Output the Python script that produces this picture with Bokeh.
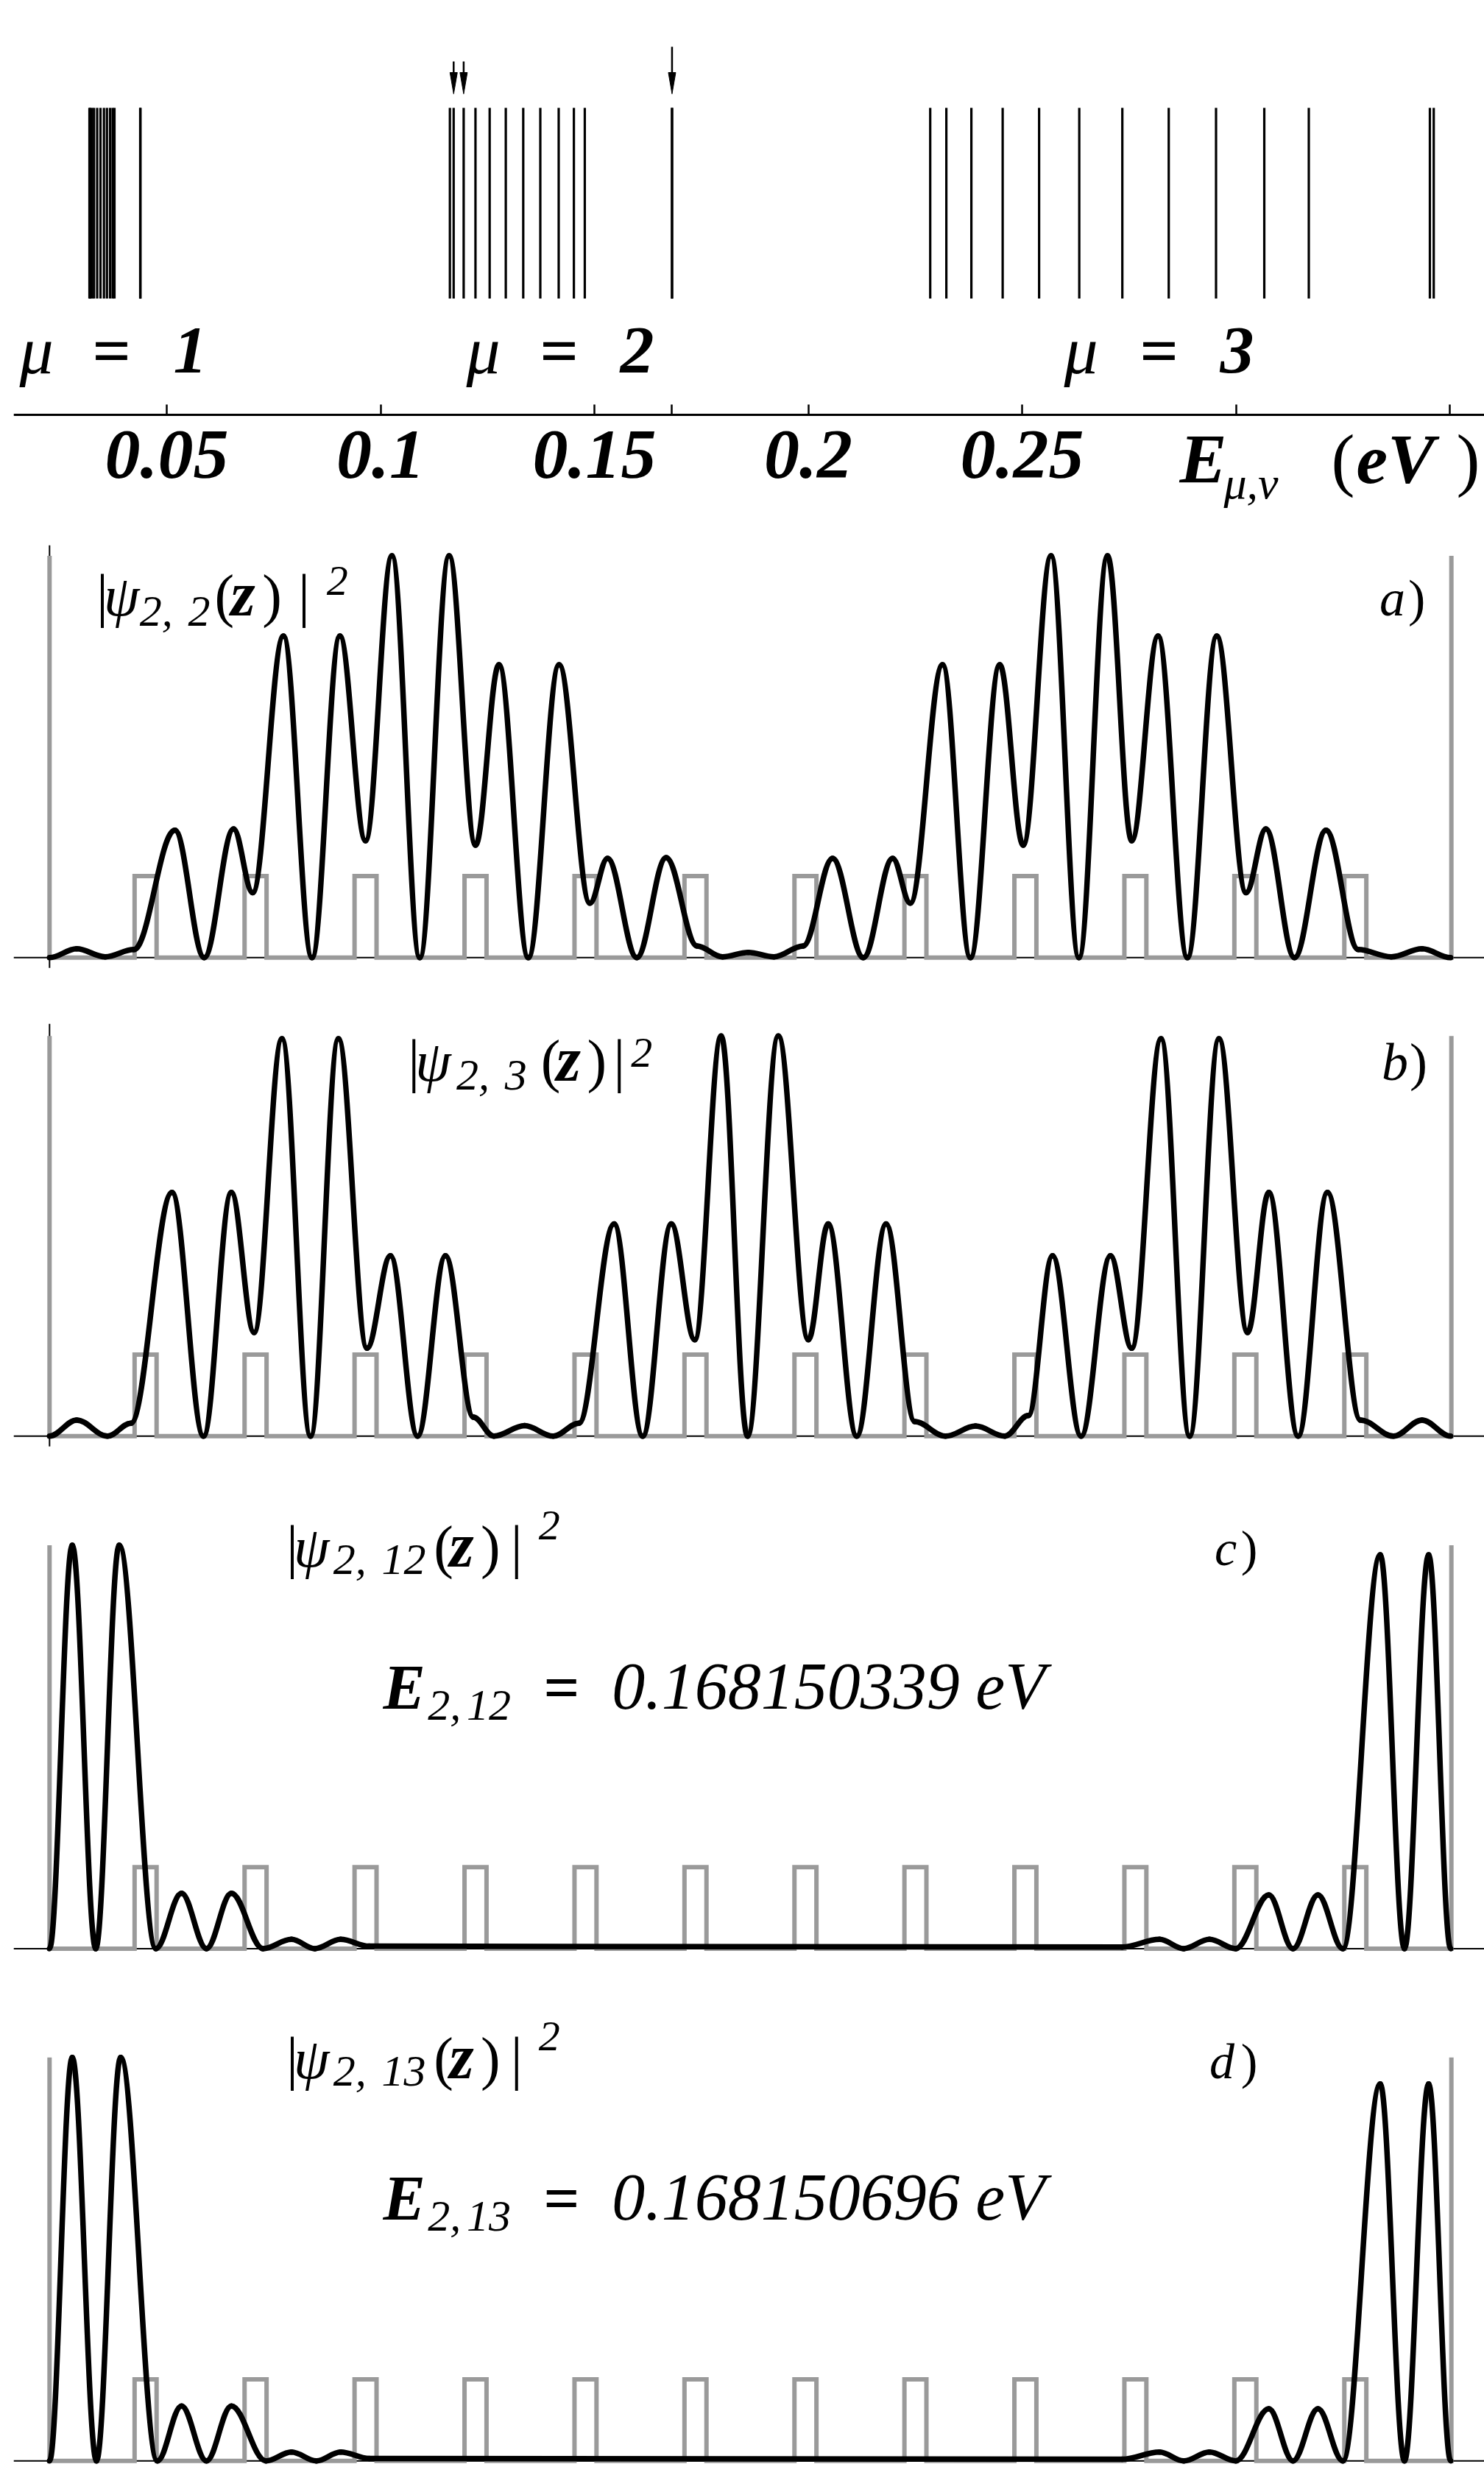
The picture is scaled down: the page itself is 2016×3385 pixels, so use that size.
from bokeh.plotting import figure
from bokeh.models import Range1d, Label, FixedTicker, Span
from bokeh.layouts import column
from bokeh.embed import file_html
from bokeh.resources import INLINE

# ---------------- data ----------------
# energy levels E_{mu,nu} (eV) of the three minibands
E_mu1 = [0.03193, 0.03210, 0.03253, 0.03300, 0.03374, 0.03451, 0.03532,
         0.03602, 0.03675, 0.03735, 0.03778, 0.04380, 0.04386]
E_mu2 = [0.11621, 0.11709, 0.11943, 0.12219, 0.12551, 0.12928, 0.13336,
         0.13735, 0.14165, 0.14520, 0.14775, 0.168150339, 0.168150696]
E_mu3 = [0.22852, 0.23229, 0.23814, 0.24546, 0.25398, 0.26337, 0.27344,
         0.28429, 0.29535, 0.30663, 0.31704, 0.34535, 0.34625]
arrow_levels = [0.11709, 0.11943, 0.168150339]
E_ticks = [0.05, 0.1, 0.15, 0.168150339, 0.2, 0.25, 0.3, 0.35]
E_tick_labels = ["0.05", "0.1", "0.15", "", "0.2", "0.25", "", ""]
band_names = ["1", "2", "3"]

# superlattice potential profile (z in nm, V in panel units)
barrier_start = [11.6, 26.6, 41.6, 56.6, 71.6, 86.6, 101.6, 116.6, 131.6, 146.6, 161.6, 176.6]
barrier_width = 3.0
box_length = 191.2
barrier_height = 0.202

# |psi|^2 : successive extrema (z, value)
z_a = [0.0, 3.7, 7.6, 11.5, 17.1, 21.1, 25.1, 27.7, 31.9, 35.8, 39.6, 43.1, 46.7,
       50.5, 54.5, 58.1, 61.3, 65.3, 69.5, 73.7, 76.1, 80.1, 84.1, 88.3, 91.8,
       95.3, 98.8, 102.8, 106.8, 111.0, 115.0, 117.4, 121.8, 125.6, 129.6, 132.8,
       136.6, 140.4, 144.3, 147.6, 151.2, 155.2, 159.2, 163.2, 165.9, 169.8,
       174.1, 178.5, 183.0, 187.2, 191.1]
v_a = [0.0, 0.022, 0.002, 0.02, 0.316, 0.0, 0.319, 0.161, 0.797, 0.0, 0.797,
       0.290, 0.996, 0.0, 0.996, 0.279, 0.726, 0.0, 0.726, 0.135, 0.246, 0.0,
       0.248, 0.029, 0.002, 0.013, 0.002, 0.029, 0.246, 0.0, 0.246, 0.135,
       0.726, 0.0, 0.726, 0.279, 0.996, 0.0, 0.996, 0.290, 0.797, 0.0, 0.797,
       0.161, 0.319, 0.0, 0.316, 0.02, 0.002, 0.022, 0.0]

z_b = [0.0, 3.7, 7.9, 11.1, 16.7, 21.0, 24.8, 27.9, 31.7, 35.6, 39.4, 43.3, 46.5,
       50.2, 54.0, 57.8, 60.6, 64.8, 68.7, 72.2, 77.0, 80.9, 84.8, 88.0, 91.6,
       95.2, 99.4, 103.5, 106.2, 110.1, 114.1, 118.0, 122.2, 126.3, 130.3, 133.5,
       136.8, 140.7, 144.7, 147.6, 151.6, 155.5, 159.5, 163.4, 166.3, 170.3,
       174.3, 178.8, 183.3, 187.2, 191.1]
v_b = [0.0, 0.040, 0.0, 0.032, 0.604, 0.0, 0.604, 0.257, 0.985, 0.0, 0.985,
       0.218, 0.447, 0.0, 0.447, 0.047, 0.0, 0.026, 0.0, 0.032, 0.526, 0.0,
       0.526, 0.239, 0.992, 0.0, 0.992, 0.239, 0.526, 0.0, 0.526, 0.036, 0.0,
       0.025, 0.0, 0.051, 0.447, 0.0, 0.447, 0.218, 0.985, 0.0, 0.985, 0.257,
       0.604, 0.0, 0.604, 0.040, 0.0, 0.040, 0.0]

z_c = [0.0, 3.1, 6.3, 9.5, 14.5, 18.0, 21.4, 24.8, 29.1, 33.0, 36.2, 39.7, 43.6,
       146.3, 151.4, 154.7, 158.2, 161.8, 166.3, 169.6, 173.0, 176.4, 181.5,
       184.8, 188.1, 191.1]
v_c = [0.0, 1.0, 0.0, 1.0, 0.0, 0.137, 0.0, 0.137, 0.0, 0.023, 0.0, 0.023, 0.006,
       0.004, 0.023, 0.0, 0.023, 0.0, 0.133, 0.0, 0.133, 0.0, 0.976, 0.0,
       0.976, 0.0]

z_d = [0.0, 3.1, 6.4, 9.7, 14.7, 18.0, 21.4, 24.8, 29.5, 33.0, 36.4, 39.7, 43.6,
       146.3, 151.4, 154.7, 158.2, 161.8, 166.3, 169.6, 173.0, 176.4, 181.5,
       184.8, 188.1, 191.1]
v_d = [0.0, 1.0, 0.0, 1.0, 0.0, 0.136, 0.0, 0.136, 0.0, 0.022, 0.0, 0.022, 0.006,
       0.004, 0.022, 0.0, 0.022, 0.0, 0.129, 0.0, 0.129, 0.0, 0.934, 0.0,
       0.934, 0.0]

# ---------------- layout helpers ----------------
W = 2016
FONT = "Liberation Serif"
GRAY = "#9a9a9a"
UNIT = 548.0          # px per unit of |psi|^2
LIFT = 0.30           # baseline correction (fraction of font size)


def make_label(p, x, y_fn, py, text, size, style):
    p.add_layout(Label(x=x, y=y_fn(py - LIFT * size), text=text, text_font=FONT,
                       text_font_size=f"{size}px", text_font_style=style,
                       text_color="black", text_baseline="alphabetic",
                       text_align="left"))


# ---------------- spectrum ----------------
S_AXIS, S_BOTTOM = 563, 730


def ex(px):
    return 0.05 + (px - 226.0) / 5810.0


def sy(py):
    return S_AXIS - py


ps = figure(width=W, height=S_BOTTOM, x_range=Range1d(ex(18), ex(2016)),
            y_range=Range1d(sy(S_BOTTOM), sy(0)), output_backend="svg",
            toolbar_location=None, y_axis_location=None,
            min_border_left=18, min_border_right=0, min_border_top=0,
            min_border_bottom=0)
ps.outline_line_color = None
ps.grid.visible = False
ps.background_fill_color = "white"
ps.border_fill_color = "white"

levels = E_mu1 + E_mu2 + E_mu3
ps.segment(x0=levels, y0=[sy(405)] * len(levels), x1=levels,
           y1=[sy(146)] * len(levels), line_color="black", line_width=3.2)

tops = [83, 83, 63]
hw = 5.0 / 5810.0
ps.segment(x0=arrow_levels, y0=[sy(t) for t in tops], x1=arrow_levels,
           y1=[sy(110)] * len(arrow_levels), line_color="black", line_width=2.5)
ps.patches(xs=[[e - hw, e + hw, e] for e in arrow_levels],
           ys=[[sy(98), sy(98), sy(127)] for _ in arrow_levels],
           fill_color="black", line_color="black", line_width=1)

ax = ps.xaxis[0]
ax.fixed_location = 0
ax.ticker = FixedTicker(ticks=E_ticks)
ax.major_label_overrides = {t: l for t, l in zip(E_ticks, E_tick_labels)}
ax.axis_line_width = 3
ax.axis_line_color = "black"
ax.major_tick_line_width = 2.5
ax.major_tick_in = 14
ax.major_tick_out = 0
ax.minor_tick_line_color = None
ax.major_label_text_font = FONT
ax.major_label_text_font_size = "96px"
ax.major_label_text_font_style = "bold italic"
ax.major_label_text_color = "black"
ax.major_label_standoff = 22

mu_x = [26, 633, 1445]
eq_x = [125, 733, 1548]
num_x = [235, 842, 1657]
for name, a, b, c in zip(band_names, mu_x, eq_x, num_x):
    make_label(ps, ex(a), sy, 503, "\u03bc", 92, "italic")
    make_label(ps, ex(b), sy, 503, "=", 92, "bold")
    make_label(ps, ex(c), sy, 503, name, 92, "bold italic")

make_label(ps, ex(1602), sy, 652, "E", 96, "bold italic")
make_label(ps, ex(1662), sy, 674, "\u03bc,\u03bd", 62, "italic")
make_label(ps, ex(1808), sy, 652, "(", 96, "normal")
make_label(ps, ex(1842), sy, 652, "eV", 96, "bold italic")
make_label(ps, ex(1978), sy, 652, ")", 96, "normal")


# ---------------- wavefunction panels ----------------
def zx(px):
    return (px - 59.0) / 10.0


def panel(top, bottom, base, z, v, pieces, vaxis):
    p = figure(width=W, height=bottom - top,
               x_range=Range1d(zx(10), zx(2016)),
               y_range=Range1d(-(bottom - base) / UNIT, (base - top) / UNIT),
               output_backend="svg", toolbar_location=None,
               x_axis_location=None, y_axis_location=None,
               min_border_left=10, min_border_right=0, min_border_top=0,
               min_border_bottom=0)
    p.outline_line_color = None
    p.grid.visible = False
    p.background_fill_color = "white"
    p.border_fill_color = "white"
    p.add_layout(Span(location=0, dimension="width", line_color="black",
                      line_width=2, level="underlay"))
    if vaxis:
        p.segment(x0=[0], y0=[-14 / UNIT], x1=[0], y1=[560 / UNIT],
                  line_color="black", line_width=2)
    wall = max(v)
    xs, ys = [0.0, 0.0], [wall, 0.0]
    for s in barrier_start:
        xs += [s, s, s + barrier_width, s + barrier_width]
        ys += [0.0, barrier_height, barrier_height, 0.0]
    xs += [box_length, box_length]
    ys += [0.0, wall]
    p.line(xs, ys, line_color=GRAY, line_width=6, line_join="miter")

    k = 0.3634
    x0, x1, y0, y1 = z[:-1], z[1:], v[:-1], v[1:]
    cx0 = [a + k * (b - a) for a, b in zip(x0, x1)]
    cx1 = [b - k * (b - a) for a, b in zip(x0, x1)]
    p.bezier(x0=x0, y0=y0, x1=x1, y1=y1, cx0=cx0, cy0=y0, cx1=cx1, cy1=y1,
             line_color="black", line_width=7.5, line_cap="round")

    def vy(py):
        return (base - py) / UNIT

    for text, px, py, size, style in pieces:
        make_label(p, zx(px), vy, py, text, size, style)
    return p


def psi_label(x, main, sub, sup, idx):
    # x: positions of |, psi, sub1, sub2, (, z, ), |, sup
    return [("|", x[0], main, 80, "normal"), ("\u03c8", x[1], main, 78, "italic"),
            ("2,", x[2], sub, 60, "italic"), (idx, x[3], sub, 60, "italic"),
            ("(", x[4], main, 80, "normal"), ("z", x[5], main, 86, "bold italic"),
            (")", x[6], main, 80, "normal"), ("|", x[7], main, 80, "normal"),
            ("2", x[8], sup, 58, "italic")]


pa_pieces = psi_label([123, 133, 182, 248, 284, 306, 349, 398, 437], 832, 848, 806, "2") + \
    [("a", 1873, 833, 70, "italic"), (")", 1912, 833, 70, "normal")]
pb_pieces = psi_label([548, 558, 614, 680, 729, 750, 792, 828, 852], 1464, 1478, 1447, "3") + \
    [("b", 1876, 1464, 72, "italic"), (")", 1914, 1464, 72, "normal")]
pc_pieces = psi_label([382, 392, 446, 512, 583, 604, 647, 688, 726], 2124, 2136, 2089, "12") + \
    [("c", 1648, 2123, 68, "italic"), (")", 1684, 2123, 68, "normal"),
     ("E", 514, 2317, 86, "bold italic"), ("2,", 575, 2334, 60, "italic"),
     ("12", 628, 2334, 60, "italic"), ("=", 733, 2317, 86, "bold"),
     ("0.168150339", 826, 2317, 90, "italic"), ("eV", 1322, 2317, 90, "italic")]
pd_pieces = psi_label([382, 392, 446, 512, 583, 604, 647, 688, 726], 2819, 2831, 2783, "13") + \
    [("d", 1641, 2820, 68, "italic"), (")", 1684, 2820, 68, "normal"),
     ("E", 514, 3011, 86, "bold italic"), ("2,", 575, 3028, 60, "italic"),
     ("13", 628, 3028, 60, "italic"), ("=", 733, 3011, 86, "bold"),
     ("0.168150696", 826, 3011, 90, "italic"), ("eV", 1322, 3011, 90, "italic")]

pa = panel(730, 1335, 1300.3, z_a, v_a, pa_pieces, True)
pb = panel(1335, 1990, 1950.3, z_b, v_b, pb_pieces, True)
pc = panel(1990, 2690, 2646.4, z_c, v_c, pc_pieces, False)
pd = panel(2690, 3360, 3342.2, z_d, v_d, pd_pieces, False)

layout = column(ps, pa, pb, pc, pd, spacing=0)
open("out.html", "w").write(file_html(layout, INLINE))
